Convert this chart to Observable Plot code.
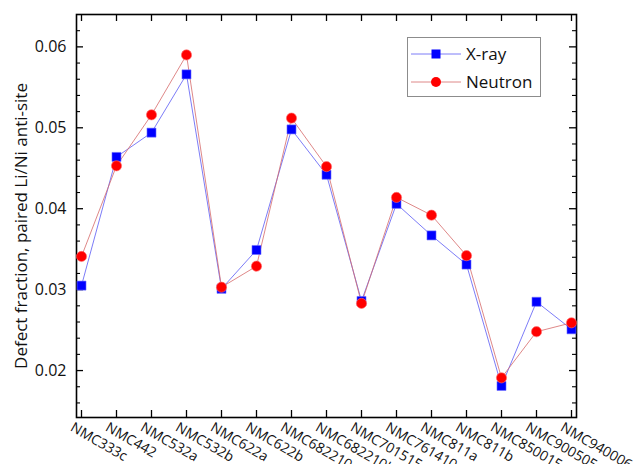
<!DOCTYPE html>
<html>
<head>
<meta charset="utf-8">
<script src="https://cdn.jsdelivr.net/npm/d3@7"></script>
<script src="https://cdn.jsdelivr.net/npm/@observablehq/plot@0.6"></script>
<style>
  html, body { margin: 0; padding: 0; background: #fff; }
  #wrap { position: relative; width: 639px; height: 464px; overflow: hidden; }
  #legend { position: absolute; left: 407px; top: 37px; width: 132px; height: 58px;
    border: 1px solid #8c8c8c; background: #fff; font-family: "Open Sans", sans-serif; }
</style>
</head>
<body>
<div id="wrap"></div>
<script>
const categories = ["NMC333c","NMC442","NMC532a","NMC532b","NMC622a","NMC622b","NMC682210a","NMC682210b","NMC701515","NMC761410","NMC811a","NMC811b","NMC850015","NMC900505","NMC940006"];
const xray    = [0.0305,0.0464,0.0494,0.0566,0.0301,0.0349,0.0498,0.0442,0.0286,0.0406,0.0367,0.0331,0.0181,0.0285,0.0251];
const neutron = [0.0341,0.0453,0.0516,0.0590,0.0303,0.0329,0.0512,0.0452,0.0283,0.0414,0.0392,0.0342,0.0191,0.0248,0.0259];
const yMajorTicks = [0.02,0.03,0.04,0.05,0.06];
const yMinorTicks = [0.016,0.018,0.022,0.024,0.026,0.028,0.032,0.034,0.036,0.038,0.042,0.044,0.046,0.048,0.052,0.054,0.056,0.058,0.062];
const yLabel = "Defect fraction, paired Li/Ni anti-site";
const seriesNames = ["X-ray","Neutron"];

const rows = categories.map((c, i) => ({cat: c, xray: xray[i], neutron: neutron[i]}));

const W = 639, H = 464, mL = 76, mR = 63, mT = 14, mB = 47;
const pw = W - mL - mR, ph = H - mT - mB;
const font = "'Open Sans', sans-serif";

const chart = Plot.plot({
  width: W, height: H,
  marginLeft: mL, marginRight: mR, marginTop: mT, marginBottom: mB,
  style: {fontFamily: font, fontSize: "15px", color: "#000", background: "#fff", overflow: "visible"},
  x: {type: "point", domain: categories, padding: 0, axis: null},
  y: {domain: [0.0142, 0.064], axis: null},
  marks: [
    Plot.tickX(categories, {x: d => d, stroke: "#000", strokeWidth: 1.3, insetTop: ph - 7}),
    Plot.tickX(categories, {x: d => d, stroke: "#000", strokeWidth: 1.3, insetBottom: ph - 7}),
    Plot.tickY(yMajorTicks, {y: d => d, stroke: "#000", strokeWidth: 1.3, insetRight: pw - 7}),
    Plot.tickY(yMajorTicks, {y: d => d, stroke: "#000", strokeWidth: 1.3, insetLeft: pw - 7}),
    Plot.tickY(yMinorTicks, {y: d => d, stroke: "#000", strokeWidth: 1.1, insetRight: pw - 4}),
    Plot.tickY(yMinorTicks, {y: d => d, stroke: "#000", strokeWidth: 1.1, insetLeft: pw - 4}),
    Plot.frame({stroke: "#000", strokeWidth: 1.6}),
    Plot.text(yMajorTicks, {y: d => d, text: d => d3.format(".2f")(d), frameAnchor: "left", dx: -10, textAnchor: "end", fontSize: 16, fill: "#111"}),
    Plot.text(categories, {x: d => d, text: d => d, frameAnchor: "bottom", rotate: 30, textAnchor: "start", lineAnchor: "top", dy: 4, dx: -7, fontSize: 14, fill: "#111"}),
    Plot.text([yLabel], {text: d => d, frameAnchor: "left", textAnchor: "middle", rotate: -90, dx: -55, dy: 10, fontSize: 17, fill: "#111"}),
    Plot.line(rows, {x: "cat", y: "xray", stroke: "#5b5bf5", strokeWidth: 0.8}),
    Plot.line(rows, {x: "cat", y: "neutron", stroke: "#d66a6a", strokeWidth: 0.8}),
    Plot.dot(rows, {x: "cat", y: "xray", symbol: "square", r: 5.1, fill: "#0000ff", stroke: "#6f6fff", strokeWidth: 0.6}),
    Plot.dot(rows, {x: "cat", y: "neutron", symbol: "circle", r: 5.1, fill: "#ff0000", stroke: "#ff6b6b", strokeWidth: 0.6})
  ]
});

const wrap = document.getElementById("wrap");
wrap.appendChild(chart);

const legend = document.createElement("div");
legend.id = "legend";
legend.innerHTML = `
<svg width="132" height="58" style="display:block">
  <line x1="3" x2="53" y1="16" y2="16" stroke="#5b5bf5" stroke-width="0.8"/>
  <rect x="23.5" y="11.5" width="9" height="9" fill="#0000ff"/>
  <text x="58" y="16" dy="0.35em" font-size="17" fill="#111" font-family="Open Sans, sans-serif">${seriesNames[0]}</text>
  <line x1="3" x2="53" y1="44" y2="44" stroke="#d66a6a" stroke-width="0.8"/>
  <circle cx="28" cy="44" r="5" fill="#ff0000"/>
  <text x="58" y="44" dy="0.35em" font-size="17" fill="#111" font-family="Open Sans, sans-serif">${seriesNames[1]}</text>
</svg>`;
wrap.appendChild(legend);
</script>
</body>
</html>
